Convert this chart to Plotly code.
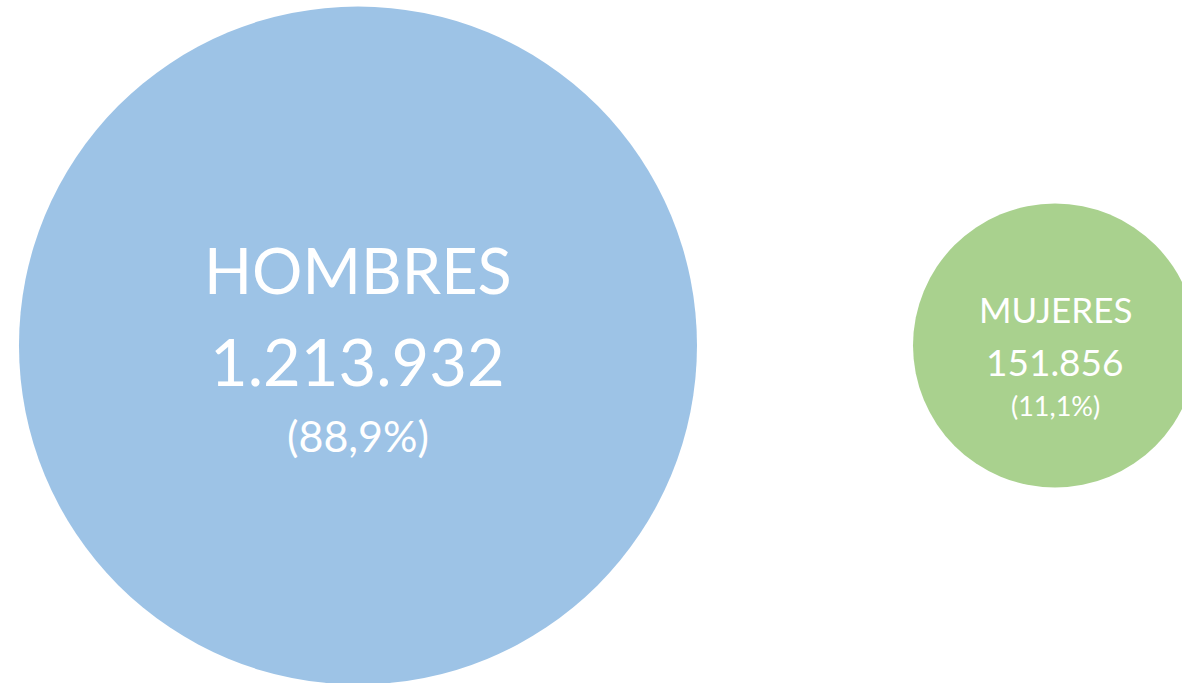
import plotly.graph_objects as go

# Data
categories = ["HOMBRES", "MUJERES"]
values = [1213932, 151856]
percent_labels = ["(88,9%)", "(11,1%)"]
value_labels = ["1.213.932", "151.856"]

# Styles
colors = ["#9DC3E6", "#A9D18E"]
diameters = [678, 284]
name_sizes = [63, 35]
value_sizes = [65, 37]
pct_sizes = [43, 27]
name_shift = [76, 37]
value_shift = [-15, -16]
pct_shift = [-90, -60]

FONT = "Lato"
xpos = list(range(len(categories)))

fig = go.Figure()
fig.add_trace(go.Scatter(
    x=xpos, y=[0] * len(xpos), mode="markers",
    marker=dict(size=diameters, color=colors, opacity=1, line=dict(width=0)),
    hoverinfo="skip", showlegend=False, cliponaxis=False,
))

for i, cat in enumerate(categories):
    for txt, fs, sh in [(cat, name_sizes[i], name_shift[i]),
                        (value_labels[i], value_sizes[i], value_shift[i]),
                        (percent_labels[i], pct_sizes[i], pct_shift[i])]:
        fig.add_annotation(x=xpos[i], y=0, xref="x", yref="y", text=txt,
                           showarrow=False, yshift=sh, xanchor="center", yanchor="middle",
                           font=dict(family=FONT, size=fs, color="white"))

fig.update_layout(
    width=1182, height=683,
    margin=dict(l=0, r=0, t=0, b=0),
    paper_bgcolor="white", plot_bgcolor="white",
    xaxis=dict(range=[-0.5136, 1.1822], visible=False, fixedrange=True),
    yaxis=dict(range=[-0.9883, 1.0117], visible=False, fixedrange=True),
    showlegend=False,
)

fig.write_html(
    "out.html",
    config={"displayModeBar": False, "staticPlot": True},
    post_script="document.body.style.margin='0';document.body.style.overflow='hidden';",
)
